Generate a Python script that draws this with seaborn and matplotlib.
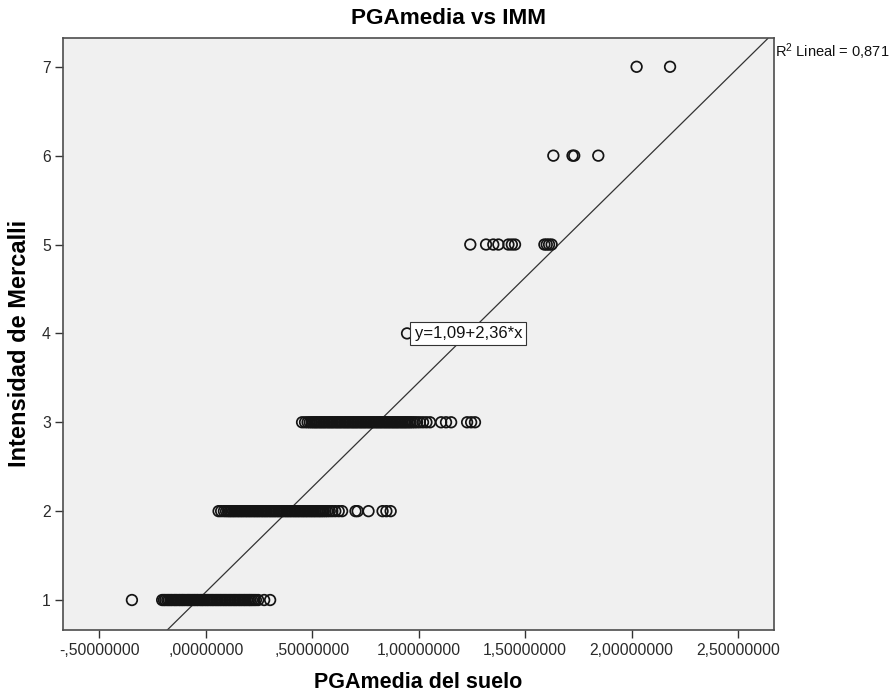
import matplotlib
matplotlib.use("Agg")
import matplotlib.pyplot as plt
import numpy as np
import pandas as pd
import seaborn as sns

# PGA media del suelo for each Mercalli intensity level
pga_imm1 = [-0.347,
            -0.205, -0.197, -0.190, -0.181, -0.174, -0.166, -0.159, -0.150, -0.143, -0.136,
            -0.127, -0.120, -0.112, -0.105, -0.097, -0.088, -0.081, -0.074, -0.066, -0.058,
            -0.051, -0.043, -0.036, -0.027, -0.020, -0.013, -0.005, 0.003, 0.010, 0.018,
            0.026, 0.033, 0.041, 0.049, 0.056, 0.064, 0.071, 0.079, 0.087, 0.094,
            0.102, 0.110, 0.117, 0.125, 0.133, 0.140, 0.148, 0.156, 0.163, 0.171,
            0.179, 0.186, 0.194, 0.202, 0.209, 0.217, 0.226, 0.235, 0.246, 0.274, 0.302]
pga_imm2 = [0.060, 0.072, 0.085, 0.095, 0.104, 0.112, 0.119, 0.127, 0.134, 0.142,
            0.150, 0.157, 0.165, 0.172, 0.180, 0.188, 0.195, 0.203, 0.210, 0.218,
            0.226, 0.233, 0.241, 0.248, 0.256, 0.264, 0.271, 0.279, 0.286, 0.294,
            0.302, 0.309, 0.317, 0.324, 0.332, 0.340, 0.347, 0.355, 0.362, 0.370,
            0.378, 0.385, 0.393, 0.400, 0.408, 0.416, 0.423, 0.431, 0.438, 0.446,
            0.454, 0.461, 0.469, 0.476, 0.484, 0.492, 0.499, 0.507, 0.514, 0.522,
            0.530, 0.537, 0.545, 0.553, 0.562, 0.571, 0.582, 0.594, 0.608, 0.624,
            0.640, 0.703, 0.713, 0.764, 0.830, 0.848, 0.868]
pga_imm3 = [0.452, 0.466, 0.478, 0.488, 0.497, 0.505, 0.513, 0.520, 0.528, 0.536,
            0.543, 0.551, 0.558, 0.566, 0.574, 0.581, 0.589, 0.596, 0.604, 0.612,
            0.619, 0.627, 0.634, 0.642, 0.650, 0.657, 0.665, 0.672, 0.680, 0.688,
            0.695, 0.703, 0.710, 0.718, 0.726, 0.733, 0.741, 0.748, 0.756, 0.764,
            0.771, 0.779, 0.786, 0.794, 0.802, 0.809, 0.817, 0.824, 0.832, 0.840,
            0.847, 0.855, 0.862, 0.870, 0.878, 0.885, 0.893, 0.900, 0.908, 0.916,
            0.923, 0.931, 0.938, 0.946, 0.954, 0.962, 0.971, 0.981, 0.992, 1.005,
            1.020, 1.036, 1.053, 1.105, 1.128, 1.152, 1.227, 1.246, 1.264]
pga_imm4 = [0.945]
pga_imm5 = [1.242, 1.316, 1.350, 1.374, 1.421, 1.437, 1.452, 1.590, 1.601, 1.612, 1.624]
pga_imm6 = [1.632, 1.722, 1.730, 1.843]
pga_imm7 = [2.023, 2.180]

imm_levels = [1, 2, 3, 4, 5, 6, 7]
pga_by_level = [pga_imm1, pga_imm2, pga_imm3, pga_imm4, pga_imm5, pga_imm6, pga_imm7]

# Linear fit reported for the data
intercept = 1.09
slope = 2.36
r2_label = r"R$^2$ Lineal = 0,871"
eq_label = "y=1,09+2,36*x"

x_ticks = [-0.5, 0.0, 0.5, 1.0, 1.5, 2.0, 2.5]
x_tick_labels = ["-,50000000", ",00000000", ",50000000", "1,00000000",
                 "1,50000000", "2,00000000", "2,50000000"]
y_ticks = [1, 2, 3, 4, 5, 6, 7]
y_tick_labels = ["1", "2", "3", "4", "5", "6", "7"]

df = pd.DataFrame({
    "pga": [v for vals in pga_by_level for v in vals],
    "imm": [lvl for lvl, vals in zip(imm_levels, pga_by_level) for _ in vals],
})

sns.set_theme(style="ticks")
plt.rcParams["font.family"] = ["Liberation Sans", "DejaVu Sans"]
plt.rcParams["mathtext.default"] = "regular"
plt.rcParams["text.color"] = "black"

W, H = 896, 697
fig = plt.figure(figsize=(W / 100, H / 100), dpi=100)
ax = fig.add_axes([0.0707, 0.0961, 0.7931, 0.8489])
ax.set_facecolor("#f0f0f0")

sns.scatterplot(data=df, x="pga", y="imm", ax=ax, marker="o", s=58,
                facecolors="none", edgecolor="#141414", linewidth=1.25,
                legend=False, zorder=3)

ax.axline((0, intercept), slope=slope, color="#333333", lw=0.9, zorder=2)

x_eq = (4 - intercept) / slope
ax.text(x_eq, 4, eq_label, ha="center", va="center", fontsize=12, color="#111111",
        bbox=dict(boxstyle="square,pad=0.25", fc="white", ec="#333333", lw=0.8),
        zorder=5)

ax.set_xlim(-0.669, 2.668)
ax.set_ylim(0.6625, 7.32)
ax.set_xticks(x_ticks)
ax.set_xticklabels(x_tick_labels)
ax.set_yticks(y_ticks)
ax.set_yticklabels(y_tick_labels)
ax.tick_params(direction="out", length=6, width=1.0, color="#333333",
               labelsize=11.3, labelcolor="#2a2a2a", pad=3)
for sp in ax.spines.values():
    sp.set_visible(True)
    sp.set_color("#4d4d4d")
    sp.set_linewidth(1.2)

ax.set_xlabel("")
ax.set_ylabel("")
fig.text(0.5 * (63 + 774) / W, 1 - 683 / H, "PGAmedia del suelo", ha="center",
         va="center", fontsize=15.5, fontweight="bold")
fig.text(20 / W, 1 - 343 / H, "Intensidad de Mercalli", ha="center", va="center",
         rotation=90, fontsize=17, fontweight="bold")

fig.text(0.5, 1 - 18 / H, "PGAmedia vs IMM", ha="center", va="center",
         fontsize=16.2, fontweight="bold")
fig.text(775 / W, 1 - 52 / H, r2_label, ha="left", va="center", fontsize=10.5,
         color="#111111")

fig.savefig("out.png", dpi=100, facecolor="white")
